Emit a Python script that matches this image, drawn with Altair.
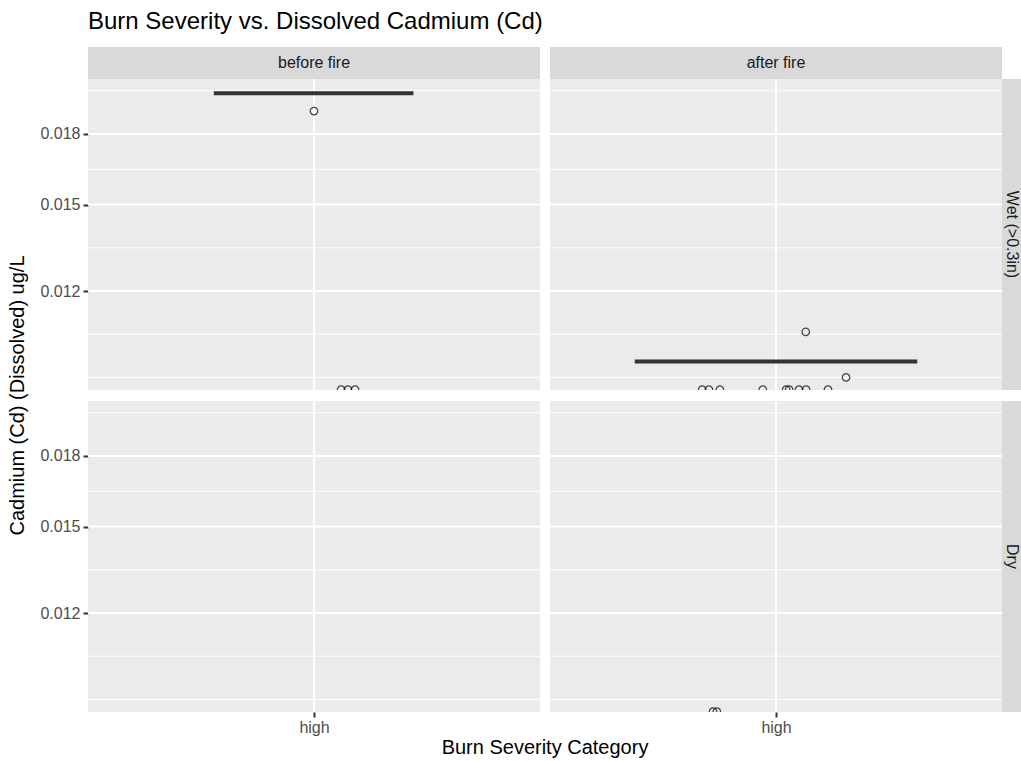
import altair as alt
import numpy as np
import pandas as pd

FONT = "Liberation Sans"

PERIODS = ["before fire", "after fire"]
WEATHER = ["Wet (>0.3in)", "Dry"]

# Outlier points (category "high" sits at x = 1; values are jittered around it)
pt_period = ["before fire"] * 4 + ["after fire"] * 11 + ["after fire"] * 2
pt_weather = ["Wet (>0.3in)"] * 4 + ["Wet (>0.3in)"] * 11 + ["Dry"] * 2
pt_xpos = [1.000, 1.072, 1.090, 1.109,
           0.804, 0.822, 0.851, 0.965, 1.027, 1.035, 1.061, 1.080, 1.138, 1.079, 1.186,
           0.833, 0.843]
pt_cd = [0.0191, 0.0093, 0.0093, 0.0093,
         0.0093, 0.0093, 0.0093, 0.0093, 0.0093, 0.0093, 0.0093, 0.0093, 0.0093, 0.0108, 0.0096,
         0.0093, 0.0093]

# Median bars of the boxplots (boxes collapsed onto the median)
bar_period = ["before fire", "after fire"]
bar_weather = ["Wet (>0.3in)", "Wet (>0.3in)"]
bar_lo = [0.734, 0.625]
bar_hi = [1.264, 1.375]
bar_cd = [0.0200, 0.0100]

# Axis breaks
y_breaks = [0.012, 0.015, 0.018]
x_labels = ["high"]

W, H = 452, 311
Y_DOMAIN = [0.009293, 0.020747]
X_DOMAIN = [0.4, 1.6]

points = pd.DataFrame({"period": pt_period, "weather": pt_weather, "xpos": pt_xpos, "cd": pt_cd})
bars = pd.DataFrame({"period": bar_period, "weather": bar_weather, "lo": bar_lo, "hi": bar_hi, "cd": bar_cd})

# minor grid: geometric midpoints between majors, extended one step past each end
ratio = y_breaks[1] / y_breaks[0]
ext = [y_breaks[0] / ratio] + y_breaks + [y_breaks[-1] * ratio]
minor = [ext[0]] + [float(np.sqrt(a * b)) for a, b in zip(ext[:-1], ext[1:])]
minor = [m for m in minor if Y_DOMAIN[0] <= m <= Y_DOMAIN[1]]


def panel(period, weather, col, row):
    xs = alt.Scale(domain=X_DOMAIN, nice=False, zero=False)
    ys = alt.Scale(type="log", domain=Y_DOMAIN, nice=False)
    if row == 1:
        xaxis = alt.Axis(values=[1], labelExpr="'" + x_labels[0] + "'", title=None, grid=False,
                         domain=False, tickColor="#333333", tickSize=5, tickWidth=2,
                         labelColor="#4D4D4D", labelFontSize=16, labelFont=FONT, labelPadding=2)
    else:
        xaxis = None
    if col == 0:
        yaxis = alt.Axis(values=y_breaks, format=".3f", title=None, grid=False, domain=False,
                         tickColor="#333333", tickSize=5, tickWidth=2, labelColor="#4D4D4D",
                         labelFontSize=16, labelFont=FONT, labelPadding=3)
    else:
        yaxis = None

    def X(field):
        return alt.X(field, scale=xs, axis=xaxis, title=None)

    def Y(field):
        return alt.Y(field, scale=ys, axis=yaxis, title=None)

    minor_rules = alt.Chart(pd.DataFrame({"cd": minor})).mark_rule(
        color="white", strokeWidth=1).encode(y=Y("cd:Q"))
    major_rules = alt.Chart(pd.DataFrame({"cd": y_breaks})).mark_rule(
        color="white", strokeWidth=2).encode(y=Y("cd:Q"))
    vrule = alt.Chart(pd.DataFrame({"xpos": [1.0]})).mark_rule(
        color="white", strokeWidth=2).encode(x=X("xpos:Q"))

    layers = [minor_rules, major_rules, vrule]

    b = bars[(bars.period == period) & (bars.weather == weather)]
    if len(b):
        layers.append(alt.Chart(b).mark_rule(color="#333333", strokeWidth=4, strokeCap="butt").encode(
            x=X("lo:Q"), x2="hi:Q", y=Y("cd:Q")))

    p = points[(points.period == period) & (points.weather == weather)]
    if len(p):
        layers.append(alt.Chart(p).mark_point(shape="circle", filled=False, color="black",
                                              size=56, strokeWidth=1.3, clip=True).encode(
            x=X("xpos:Q"), y=Y("cd:Q")))

    if row == 0:
        strip = pd.DataFrame({"label": [period]})
        layers.append(alt.Chart(strip).mark_rect(color="#D9D9D9").encode(
            x=alt.value(0), x2=alt.value(W), y=alt.value(-32), y2=alt.value(0)))
        layers.append(alt.Chart(strip).mark_text(font=FONT, fontSize=16, color="#1A1A1A",
                                                 align="center", baseline="middle").encode(
            x=alt.value(W / 2), y=alt.value(-16), text="label:N"))
    if col == 1:
        strip = pd.DataFrame({"label": [weather]})
        layers.append(alt.Chart(strip).mark_rect(color="#D9D9D9").encode(
            x=alt.value(W), x2=alt.value(W + 19), y=alt.value(0), y2=alt.value(H)))
        layers.append(alt.Chart(strip).mark_text(font=FONT, fontSize=16, color="#1A1A1A",
                                                 align="center", baseline="middle", angle=90).encode(
            x=alt.value(W + 10), y=alt.value(H / 2), text="label:N"))
    if row == 0 and col == 0:
        frame = pd.DataFrame({"t": ["Burn Severity vs. Dissolved Cadmium (Cd)"],
                              "yt": ["Cadmium (Cd) (Dissolved) ug/L"]})
        layers.append(alt.Chart(frame).mark_rect(opacity=0).encode(
            x=alt.value(-88), x2=alt.value(0), y=alt.value(-79), y2=alt.value(0)))
        layers.append(alt.Chart(frame).mark_text(font=FONT, fontSize=24, color="black",
                                                 align="left", baseline="middle").encode(
            x=alt.value(0), y=alt.value(-57), text="t:N"))
        layers.append(alt.Chart(frame).mark_text(font=FONT, fontSize=20, color="black",
                                                 align="center", baseline="middle", angle=270).encode(
            x=alt.value(-70), y=alt.value(H + 5.5), text="yt:N"))
    if row == 1 and col == 0:
        frame = pd.DataFrame({"t": ["Burn Severity Category"]})
        layers.append(alt.Chart(frame).mark_text(font=FONT, fontSize=20, color="black",
                                                 align="center", baseline="middle").encode(
            x=alt.value(W + 5), y=alt.value(H + 36), text="t:N"))
    if row == 1 and col == 1:
        layers.append(alt.Chart(pd.DataFrame({"a": [0]})).mark_rect(opacity=0).encode(
            x=alt.value(0), x2=alt.value(W + 19), y=alt.value(0), y2=alt.value(H + 49)))

    return alt.layer(*layers).properties(width=W, height=H)


cells = []
for r, w in enumerate(WEATHER):
    for c, per in enumerate(PERIODS):
        cells.append(panel(per, w, c, r))

chart = alt.concat(*cells, columns=2, spacing={"row": 11, "column": 10}, bounds="flush").properties(
    padding=0, background="white"
).configure_view(fill="#EBEBEB", stroke=None)

chart.save("out.html", embed_options={"renderer": "svg", "actions": False})
